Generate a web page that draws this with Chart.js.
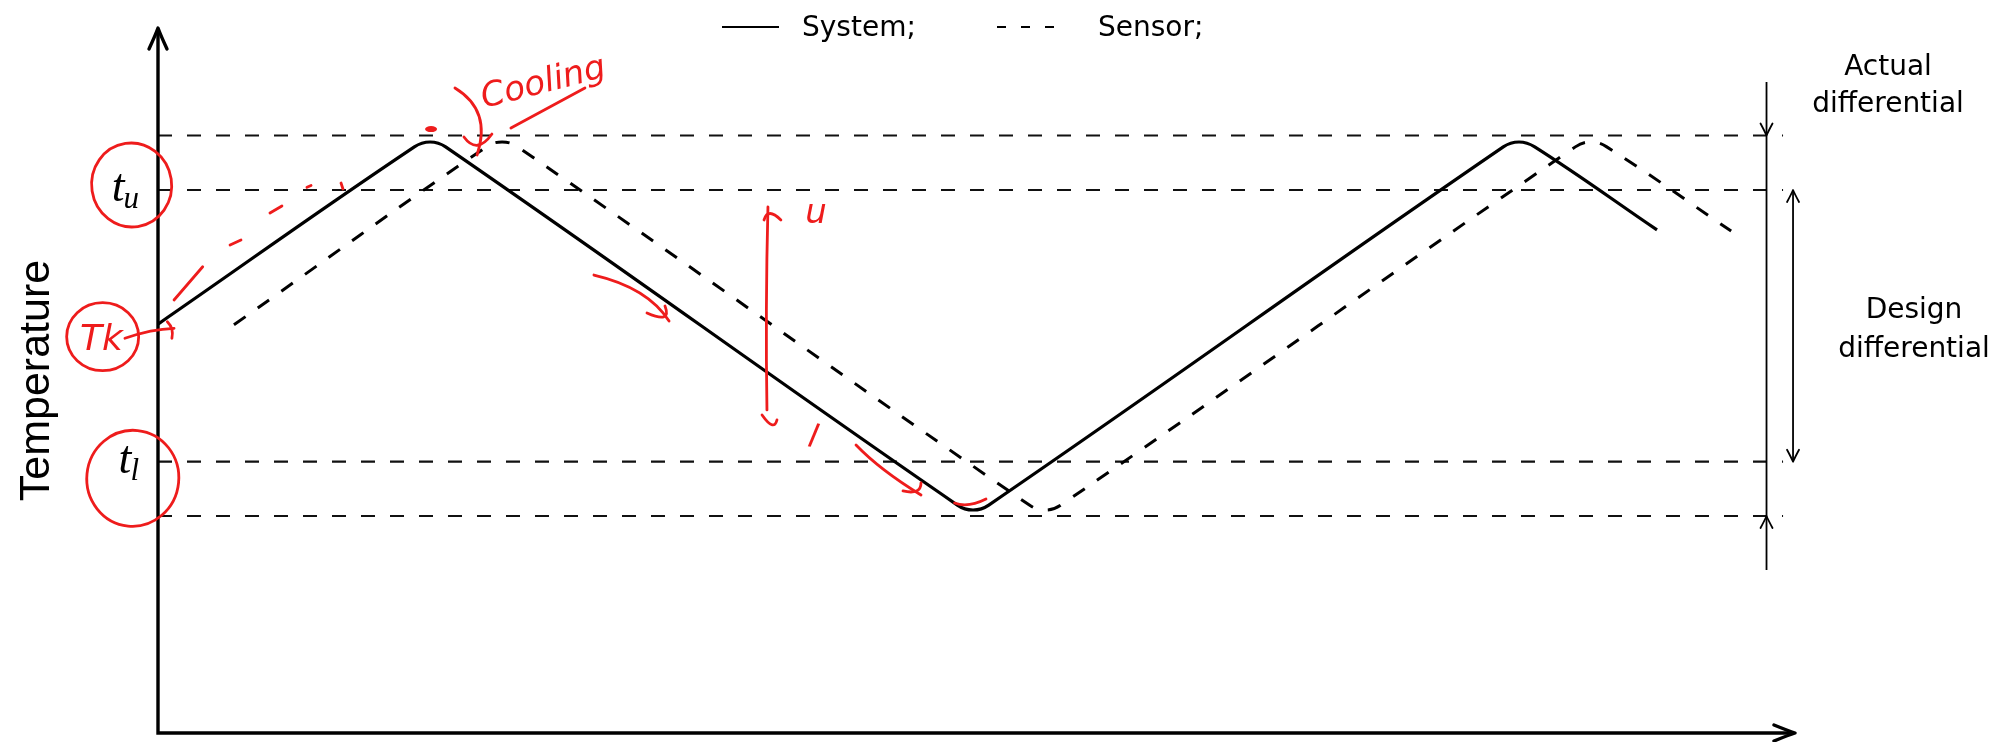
<!DOCTYPE html>
<html>
<head>
<meta charset="utf-8">
<script src="https://cdn.jsdelivr.net/npm/chart.js@4.4.1/dist/chart.umd.min.js"></script>
<style>
  html,body{margin:0;padding:0;background:#fff;}
  canvas{display:block;}
</style>
</head>
<body>
<canvas id="c" width="1996" height="742"></canvas>
<script>
// ===== DATA (time 0..100, temperature 0..100, arbitrary units) =====
const systemTime = [0, 15.66, 16.62, 17.57, 48.83, 49.79, 50.75, 82.18, 83.14, 84.10, 91.57];
const systemTemp = [58.0, 83.14, 83.83, 83.14, 32.33, 31.63, 32.33, 83.14, 83.83, 83.14, 71.36];
const sensorTime = [4.64, 20.06, 21.02, 21.97, 53.23, 54.19, 55.15, 86.58, 87.54, 88.50, 96.10];
const sensorTemp = [57.9, 83.14, 83.83, 83.14, 32.33, 31.63, 32.33, 83.14, 83.83, 83.14, 71.20];

const levelNames = ['actualHigh', 'tu', 'tl', 'actualLow'];
const levelTemp  = [84.75, 77.02, 38.48, 30.78];
const levelStart = 0, levelEnd = 99.27;

const tickTemp = [77.02, 38.48];
const tickMain = ['t', 't'];
const tickSub  = ['u', 'l'];

const seriesLabels = ['System', 'Sensor'];
const yTitle = 'Temperature';
const actualLabel = ['Actual', 'differential'];
const designLabel = ['Design', 'differential'];
const actualArrowTime = 98.26, actualArrowFrom = 92.34, actualArrowTo = 23.12;
const designArrowTime = 99.88;

// red hand notes (data units)
const redEllipses = [[-1.61, 77.73, 40, 42, -0.15], [-1.54, 36.13, 46, 48, 0.1], [-3.38, 56.21, 36, 34, 0]];
const redStrokes = [
  [[0.98,61.42],[2.73,66.14]],
  [[4.40,69.22],[5.07,69.93]],
  [[6.84,73.76],[7.57,74.75]],
  [[9.10,77.40],[9.35,77.65]],
  [[11.18,78.01],[11.30,77.16]],
  [[-2.02,55.99],[-0.4,57.3],[0.98,57.40]],
  [[0.57,58.34],[0.98,57.40],[0.85,55.99]],
  [[18.14,91.49],[20.4,88.3],[19.49,81.99]],
  [[18.69,84.54],[19.49,81.99],[20.40,84.96]],
  [[21.56,85.82],[26.08,91.49]],
  [[26.63,64.96],[29.9,63.2],[31.22,58.44]],
  [[29.87,59.57],[31.4,58.0],[30.97,60.57]],
  [[37.26,74.61],[37.10,60],[37.20,45.82]],
  [[37.02,72.77],[37.26,74.61],[38.05,72.77]],
  [[36.90,45.11],[37.63,42.70],[37.81,44.40]],
  [[42.64,40.85],[44.11,37.30],[46.61,33.76]],
  [[45.51,34.33],[46.61,33.76],[46.61,35.46]],
  [[48.66,32.62],[49.48,31.91],[50.58,33.19]]
];
const redTexts = [['Cooling', 19.91, 88.65, -0.25, 34], ['Tk', -3.45, 54.3, 0, 36], ['u', 40.2, 72.3, 0, 34], ['l', 39.9, 40.6, 0.2, 32]];
const redDot = [16.68, 85.67];

const pts = (xs, ys) => xs.map((t, i) => ({x: t, y: ys[i]}));
const INK = '#000', RED = '#ee1c1c';

const levelSets = levelNames.map((n, i) => ({
  label: n, data: [{x: levelStart, y: levelTemp[i]}, {x: levelEnd, y: levelTemp[i]}],
  borderColor: '#111', borderWidth: 2.2, borderDash: [14, 15], pointRadius: 0, tension: 0
}));

function arrowHead(ctx, tx, ty, ang, len, half, lw){
  ctx.save(); ctx.translate(tx, ty); ctx.rotate(ang);
  ctx.lineWidth = lw; ctx.lineCap = 'round'; ctx.lineJoin = 'round'; ctx.setLineDash([]);
  ctx.beginPath();
  ctx.moveTo(-len, -half); ctx.quadraticCurveTo(-len*0.3, -half*0.25, 0, 0);
  ctx.quadraticCurveTo(-len*0.3, half*0.25, -len, half);
  ctx.stroke(); ctx.restore();
}

const decor = {
  id: 'decor',
  afterDatasetsDraw(chart){
    const {ctx, chartArea: a, scales: {x, y}} = chart;
    const X = u => x.getPixelForValue(u), Y = v => y.getPixelForValue(v);
    ctx.save();
    ctx.strokeStyle = '#000'; ctx.fillStyle = '#000';

    // axes
    ctx.lineWidth = 3.4; ctx.setLineDash([]);
    ctx.beginPath();
    ctx.moveTo(a.left, a.bottom + 1.7); ctx.lineTo(a.left, a.top + 1);
    ctx.moveTo(a.left - 1.7, a.bottom); ctx.lineTo(a.right - 1, a.bottom);
    ctx.stroke();
    arrowHead(ctx, a.left, a.top, -Math.PI/2, 21, 9, 3.4);
    arrowHead(ctx, a.right, a.bottom, 0, 21, 8, 3.4);

    // tick labels t_u, t_l
    tickTemp.forEach((v, i) => {
      const py = Y(v);
      ctx.textAlign = 'right'; ctx.textBaseline = 'alphabetic';
      ctx.font = 'italic 31px "Liberation Serif"';
      const sw = ctx.measureText(tickSub[i]).width;
      ctx.fillText(tickSub[i], a.left - 19, py + 18);
      ctx.font = 'italic 46px "Liberation Serif"';
      ctx.fillText(tickMain[i], a.left - 19 - sw + 1, py + 11);
    });

    // y title
    ctx.save();
    ctx.translate(49, (a.top + a.bottom) / 2);
    ctx.rotate(-Math.PI/2);
    ctx.font = '43px "Liberation Sans"'; ctx.textAlign = 'center';
    ctx.fillText(yTitle, 0, 0);
    ctx.restore();

    // legend
    const ds = chart.data.datasets;
    ctx.lineWidth = 1.8; ctx.lineCap = 'butt';
    ctx.font = '28px "DejaVu Sans"'; ctx.textAlign = 'left';
    ctx.setLineDash([]);
    ctx.beginPath(); ctx.moveTo(722, 27); ctx.lineTo(779, 27); ctx.stroke();
    ctx.fillText(ds[0].label + ';', 802, 36);
    ctx.setLineDash([9, 15]);
    ctx.beginPath(); ctx.moveTo(997, 27); ctx.lineTo(1054, 27); ctx.stroke();
    ctx.setLineDash([]);
    ctx.fillText(ds[1].label + ';', 1098, 36);

    // differential arrows
    ctx.lineWidth = 1.8;
    const ax = X(actualArrowTime), dx = X(designArrowTime);
    ctx.beginPath(); ctx.moveTo(ax, Y(actualArrowFrom)); ctx.lineTo(ax, Y(actualArrowTo)); ctx.stroke();
    arrowHead(ctx, ax, Y(levelTemp[0]), Math.PI/2, 12, 6, 1.8);
    arrowHead(ctx, ax, Y(levelTemp[3]), -Math.PI/2, 12, 6, 1.8);
    ctx.beginPath(); ctx.moveTo(dx, Y(levelTemp[1])); ctx.lineTo(dx, Y(levelTemp[2])); ctx.stroke();
    arrowHead(ctx, dx, Y(levelTemp[1]), -Math.PI/2, 12, 6, 1.8);
    arrowHead(ctx, dx, Y(levelTemp[2]), Math.PI/2, 12, 6, 1.8);

    ctx.font = '28px "DejaVu Sans"'; ctx.textAlign = 'center';
    ctx.fillText(actualLabel[0], 1888, 75);
    ctx.fillText(actualLabel[1], 1888, 112);
    ctx.fillText(designLabel[0], 1914, 318);
    ctx.fillText(designLabel[1], 1914, 357);

    // red hand notes
    ctx.strokeStyle = RED; ctx.fillStyle = RED;
    ctx.lineWidth = 2.8; ctx.lineCap = 'round'; ctx.lineJoin = 'round';
    redEllipses.forEach(e => {
      ctx.beginPath(); ctx.ellipse(X(e[0]), Y(e[1]), e[2], e[3], e[4], 0, Math.PI*2); ctx.stroke();
    });
    redStrokes.forEach(s => {
      ctx.beginPath(); ctx.moveTo(X(s[0][0]), Y(s[0][1]));
      if (s.length === 3) ctx.quadraticCurveTo(X(s[1][0]), Y(s[1][1]), X(s[2][0]), Y(s[2][1]));
      else ctx.lineTo(X(s[1][0]), Y(s[1][1]));
      ctx.stroke();
    });
    ctx.beginPath(); ctx.ellipse(X(redDot[0]), Y(redDot[1]), 6, 3, 0, 0, Math.PI*2); ctx.fill();
    redTexts.forEach(t => {
      ctx.save(); ctx.translate(X(t[1]), Y(t[2])); ctx.rotate(t[3]);
      ctx.font = 'italic ' + t[4] + 'px "DejaVu Sans"';
      ctx.textAlign = t[0] === 'Cooling' ? 'left' : 'center';
      ctx.fillText(t[0], 0, 0);
      ctx.restore();
    });
    ctx.restore();
  }
};

new Chart(document.getElementById('c'), {
  type: 'line',
  data: {
    datasets: [
      {label: seriesLabels[0], data: pts(systemTime, systemTemp), borderColor: INK, borderWidth: 3.2,
       borderDash: [], pointRadius: 0, tension: 0.4, borderJoinStyle: 'round'},
      {label: seriesLabels[1], data: pts(sensorTime, sensorTemp), borderColor: INK, borderWidth: 3,
       borderDash: [14, 15], pointRadius: 0, tension: 0.4, borderJoinStyle: 'round'},
      ...levelSets
    ]
  },
  options: {
    responsive: false, animation: false, devicePixelRatio: 1,
    layout: {padding: {left: 158, right: 201, top: 28, bottom: 9}},
    scales: {
      x: {type: 'linear', min: 0, max: 100, display: false},
      y: {type: 'linear', min: 0, max: 100, display: false}
    },
    plugins: {legend: {display: false}, tooltip: {enabled: false}}
  },
  plugins: [decor]
});
</script>
</body>
</html>
